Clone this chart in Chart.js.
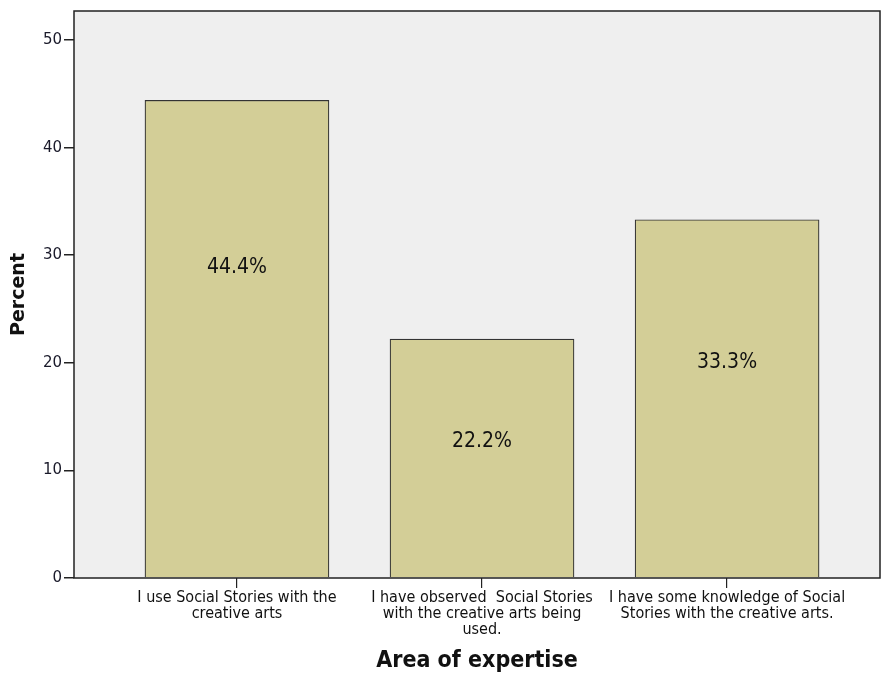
<!DOCTYPE html>
<html>
<head>
<meta charset="utf-8">
<script src="https://cdn.jsdelivr.net/npm/chart.js@4/dist/chart.umd.min.js"></script>
<style>
  html, body { margin: 0; padding: 0; background: #fff; }
  #wrap { width: 881px; height: 675px; }
</style>
</head>
<body>
<div id="wrap"><canvas id="barChart" width="881" height="675"></canvas></div>
<script>
// categories on the x axis (wrapped the way the original shows them)
var categories = [
    ["I use Social Stories with the", "creative arts"],
    ["I have observed  Social Stories", "with the creative arts being", "used."],
    ["I have some knowledge of Social", "Stories with the creative arts."]
];
var percents = [44.4, 22.2, 33.3];
// where each percent label sits inside its bar, in percent units
var labelAnchor = [28.9, 12.7, 20.0];
var yTicks = [0, 10, 20, 30, 40, 50];

var barData = [];
for (var i = 0; i < percents.length; i++) {
    barData.push({x: i + 1, y: percents[i]});
}

var narrow = '"Liberation Sans Narrow", "DejaVu Sans Condensed", sans-serif';

// grey plot background + dark frame round the chart area
var framePlugin = {
    id: 'frame',
    beforeDatasetsDraw: function(chart) {
        var ctx = chart.ctx, a = chart.chartArea;
        ctx.save();
        ctx.fillStyle = '#efefef';
        ctx.fillRect(a.left, a.top, a.right - a.left, a.bottom - a.top);
        ctx.restore();
    },
    afterDatasetsDraw: function(chart) {
        var ctx = chart.ctx, a = chart.chartArea;
        ctx.save();
        ctx.strokeStyle = '#222';
        ctx.lineWidth = 1.5;
        ctx.strokeRect(a.left, a.top, a.right - a.left, a.bottom - a.top);
        ctx.restore();
    }
};

// percent labels inside the bars
var valueLabels = {
    id: 'valueLabels',
    afterDatasetsDraw: function(chart) {
        var ctx = chart.ctx;
        var meta = chart.getDatasetMeta(0);
        var yScale = chart.scales.y;
        ctx.save();
        ctx.font = '21px ' + narrow;
        ctx.fillStyle = '#111';
        ctx.textAlign = 'center';
        ctx.textBaseline = 'middle';
        meta.data.forEach(function(bar, idx) {
            ctx.fillText(percents[idx].toFixed(1) + '%', bar.x, yScale.getPixelForValue(labelAnchor[idx]));
        });
        ctx.restore();
    }
};

var chart = new Chart(document.getElementById('barChart'), {
    type: 'bar',
    data: {
        datasets: [{
            data: barData,
            backgroundColor: '#d3ce97',
            borderColor: '#333',
            borderWidth: 1.2,
            barThickness: 184
        }]
    },
    options: {
        responsive: false,
        animation: false,
        layout: { padding: { top: 8, right: 1, left: 8, bottom: 0 } },
        plugins: {
            legend: { display: false },
            tooltip: { enabled: false }
        },
        scales: {
            x: {
                type: 'linear',
                min: 0.335,
                max: 3.624,
                offset: false,
                afterBuildTicks: function(scale) {
                    scale.ticks = categories.map(function(c, i) { return {value: i + 1}; });
                },
                afterFit: function(scale) { scale.height = 97; },
                grid: {
                    offset: false,
                    drawOnChartArea: false,
                    drawTicks: true,
                    tickLength: 10,
                    color: '#222',
                    lineWidth: 1.2
                },
                border: { display: false },
                ticks: {
                    autoSkip: false,
                    maxRotation: 0,
                    padding: 2,
                    color: '#111',
                    font: { family: narrow, size: 16, lineHeight: 1.0 },
                    callback: function(v) { return categories[v - 1] || ''; }
                },
                title: {
                    display: true,
                    text: 'Area of expertise',
                    color: '#111',
                    padding: { top: 10, bottom: 0 },
                    font: { family: narrow, size: 23, weight: 'bold' }
                }
            },
            y: {
                min: 0,
                max: 52.7,
                afterBuildTicks: function(scale) {
                    scale.ticks = yTicks.map(function(t) { return {value: t}; });
                },
                afterFit: function(scale) { scale.width = 66; },
                grid: {
                    drawOnChartArea: false,
                    drawTicks: true,
                    tickLength: 10,
                    color: '#222',
                    lineWidth: 1.5
                },
                border: { display: false },
                ticks: {
                    padding: 2,
                    color: '#1a1a2a',
                    font: { family: '"DejaVu Sans", sans-serif', size: 15 }
                },
                title: {
                    display: true,
                    text: 'Percent',
                    color: '#111',
                    padding: { top: 0, bottom: 4 },
                    font: { family: '"DejaVu Sans", sans-serif', size: 19, weight: 'bold' }
                }
            }
        }
    },
    plugins: [framePlugin, valueLabels]
});
</script>
</body>
</html>
